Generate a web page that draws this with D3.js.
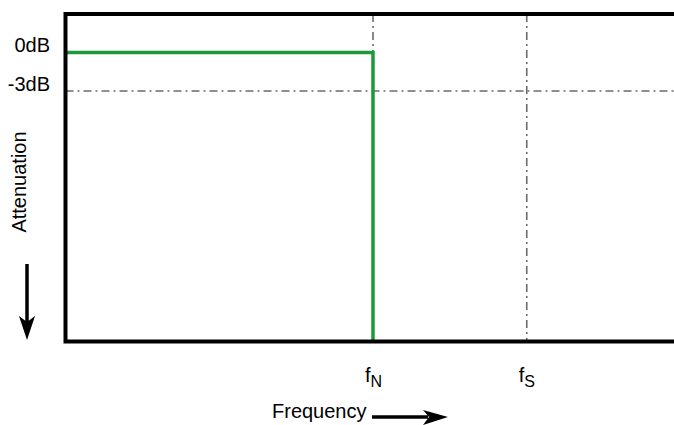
<!DOCTYPE html>
<html>
<head>
<meta charset="utf-8">
<script src="https://cdn.jsdelivr.net/npm/d3@7"></script>
<style>
    body { margin: 0; background: #fff; }
    svg { display: block; font-family: Arial, "Liberation Sans", sans-serif; }
</style>
</head>
<body>
<svg id="chart"></svg>
<script>
// frequency in units of the Nyquist frequency, attenuation in dB
const freqDomain = [0, 2];
const dbDomain = [3, -22.5];
const markers = [
    { name: "N", f: 1 },
    { name: "S", f: 1.5 }
];
const dbLabels = [
    { text: "0dB", db: 0 },
    { text: "-3dB", db: -3 }
];
const responseF = [0, 1, 1];
const responseDb = [0, 0, -22.5];

const width = 674, height = 425;
const margin = { top: 14, left: 65.5, bottom: 341.5 };

const svg = d3.select("#chart")
    .attr("width", width)
    .attr("height", height);

const x = d3.scaleLinear().domain(freqDomain).range([margin.left, margin.left + 615]);
const y = d3.scaleLinear().domain(dbDomain).range([margin.top, margin.bottom]);

const grey = "#6b6b6b";
const dash = "8,4,2,4";

// -3dB reference line
svg.append("line")
    .attr("x1", x(0)).attr("x2", width)
    .attr("y1", y(-3)).attr("y2", y(-3))
    .attr("stroke", grey).attr("stroke-width", 1.6)
    .attr("stroke-dasharray", dash);

// fN and fS guides
svg.selectAll("line.guide")
    .data(markers)
    .join("line")
    .attr("class", "guide")
    .attr("x1", d => x(d.f)).attr("x2", d => x(d.f))
    .attr("y1", y(dbDomain[0]))
    .attr("y2", d => d.name === "N" ? y(0) : y(dbDomain[1]))
    .attr("stroke", grey).attr("stroke-width", 1.6)
    .attr("stroke-dasharray", dash);

// ideal brick-wall response
const line = d3.line()
    .x((d, i) => x(responseF[i]))
    .y(d => y(d));

svg.append("path")
    .datum(responseDb)
    .attr("d", line)
    .attr("fill", "none")
    .attr("stroke", "#1b9a3b")
    .attr("stroke-width", 3.5);

// frame: left, top, bottom (right side is open)
svg.append("path")
    .attr("d", `M${width},${y(dbDomain[0])}H${x(0)}V${y(dbDomain[1])}H${width}`)
    .attr("fill", "none")
    .attr("stroke", "#000")
    .attr("stroke-width", 4);

// dB labels
svg.selectAll("text.db")
    .data(dbLabels)
    .join("text")
    .attr("class", "db")
    .attr("x", 50)
    .attr("y", d => y(d.db) - 0.5)
    .attr("text-anchor", "end")
    .attr("font-size", 20)
    .text(d => d.text);

// frequency markers
const fl = svg.selectAll("text.fm")
    .data(markers)
    .join("text")
    .attr("class", "fm")
    .attr("x", d => x(d.f) - 8)
    .attr("y", 382)
    .attr("font-size", 20);
fl.append("tspan").text("f");
fl.append("tspan").attr("dy", 5).attr("font-size", 16).text(d => d.name);

// axis titles
svg.append("text")
    .attr("transform", `translate(26,182) rotate(-90)`)
    .attr("text-anchor", "middle")
    .attr("font-size", 20)
    .text("Attenuation");

svg.append("text")
    .attr("x", 272)
    .attr("y", 418)
    .attr("font-size", 20)
    .text("Frequency");

// arrows
const arrows = svg.append("g");
arrows.append("line")
    .attr("x1", 27).attr("x2", 27).attr("y1", 264).attr("y2", 322)
    .attr("stroke", "#000").attr("stroke-width", 3.5);
arrows.append("path")
    .attr("d", "M19,316L27,340L35,316L27,322Z");
arrows.append("line")
    .attr("x1", 372).attr("x2", 428).attr("y1", 417).attr("y2", 417)
    .attr("stroke", "#000").attr("stroke-width", 3.5);
arrows.append("path")
    .attr("d", "M423,410L448,417L423,425L429,417Z");
</script>
</body>
</html>
